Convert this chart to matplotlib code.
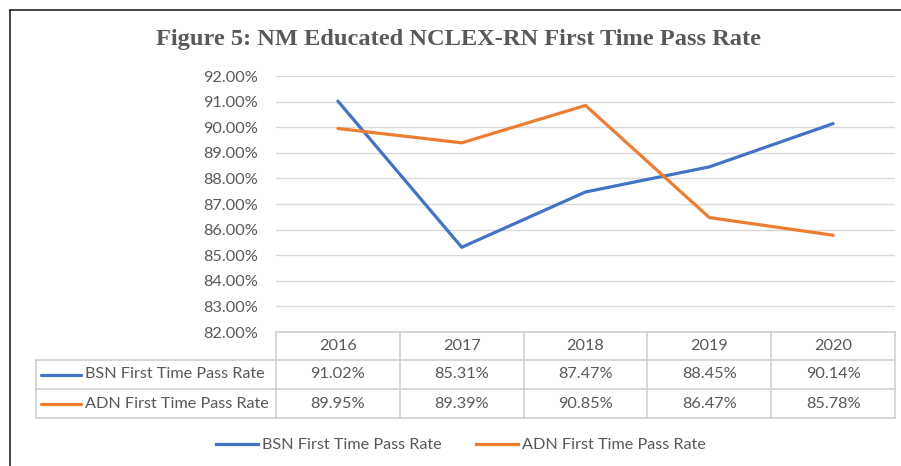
import matplotlib as mpl
mpl.use('Agg')
from matplotlib import pyplot as plt
from matplotlib.lines import Line2D
import matplotlib.transforms as mtransforms

years = ['2016', '2017', '2018', '2019', '2020']
bsn = [91.02, 85.31, 87.47, 88.45, 90.14]
adn = [89.95, 89.39, 90.85, 86.47, 85.78]
series_names = ['BSN First Time Pass Rate', 'ADN First Time Pass Rate']
yticks = [82, 83, 84, 85, 86, 87, 88, 89, 90, 91, 92]

W, H = 901, 466
blue = '#4472C4'
orange = '#ED7D31'
txt = '#595959'
grid = '#D9D9D9'
font = ['Lato', 'DejaVu Sans']
fs = 11.7

def fx(px):
    return px / W

def fy(py):
    return 1 - py / H

fig = plt.figure(figsize=(W / 100, H / 100), dpi=100)
fig.patch.set_facecolor('white')

# outer border (cut at right/bottom like the screenshot)
fig.add_artist(Line2D([fx(9.5), fx(9.5)], [fy(9.5), 0], color='#262626', lw=1.2))
fig.add_artist(Line2D([fx(9.5), 1], [fy(9.5), fy(9.5)], color='#262626', lw=1.2))

fig.text(fx(459), fy(40), 'Figure 5: NM Educated NCLEX-RN First Time Pass Rate',
         family='Liberation Serif', weight='bold', fontsize=17.6, color=txt,
         ha='center', va='center')

ax = fig.add_axes([fx(276), fy(332), fx(895) - fx(276), fy(76) - fy(332)])
x = list(range(len(years)))
ax.plot(x, bsn, color=blue, lw=2.3, solid_capstyle='round')
ax.plot(x, adn, color=orange, lw=2.3, solid_capstyle='round')
ax.set_xlim(-0.5, len(years) - 0.5)
ax.set_ylim(82, 92)
ax.set_yticks(yticks)
ax.set_yticklabels(['%.2f%%' % v for v in yticks], family=font, fontsize=fs, color=txt)
ax.tick_params(axis='y', length=0, pad=13)
ax.set_xticks([])
for s in ax.spines.values():
    s.set_visible(False)
ax.grid(axis='y', color=grid, lw=1)
ax.set_axisbelow(True)

# data table under the axes
tr = mtransforms.blended_transform_factory(ax.transData, fig.transFigure)
rows_y = [332, 360, 389, 418]
tl = '#D0D0D0'
fig.add_artist(Line2D([-0.5, 4.5], [fy(332), fy(332)], transform=tr, color=tl, lw=1.2))
for py in rows_y[1:]:
    fig.add_artist(Line2D([fx(36), fx(895)], [fy(py), fy(py)], color=tl, lw=1.2))
for i in range(len(years) + 1):
    fig.add_artist(Line2D([i - 0.5, i - 0.5], [fy(332), fy(418)], transform=tr, color=tl, lw=1.2))
fig.add_artist(Line2D([fx(36), fx(36)], [fy(360), fy(418)], color=tl, lw=1.2))

for i, yr in enumerate(years):
    fig.text(i, fy(346), yr, transform=tr, ha='center', va='center',
             family=font, fontsize=fs, color=txt)
    fig.text(i, fy(374.5), '%.2f%%' % bsn[i], transform=tr, ha='center', va='center',
             family=font, fontsize=fs, color=txt)
    fig.text(i, fy(403.5), '%.2f%%' % adn[i], transform=tr, ha='center', va='center',
             family=font, fontsize=fs, color=txt)

for name, col, py in [(series_names[0], blue, 374.5), (series_names[1], orange, 403.5)]:
    fig.add_artist(Line2D([fx(41), fx(81)], [fy(py), fy(py)], color=col, lw=2.3,
                          solid_capstyle='round'))
    fig.text(fx(85), fy(py), name, ha='left', va='center',
             family=font, fontsize=fs, color=txt)

handles = [Line2D([], [], color=blue, lw=2.3), Line2D([], [], color=orange, lw=2.3)]
leg = fig.legend(handles, series_names, loc='center', bbox_to_anchor=(fx(461), fy(445)),
                 ncol=2, frameon=False, handlelength=2.6, handletextpad=0.25,
                 columnspacing=2.1, prop={'family': font, 'size': fs})
for t in leg.get_texts():
    t.set_color(txt)

fig.savefig('out.png', dpi=100)
